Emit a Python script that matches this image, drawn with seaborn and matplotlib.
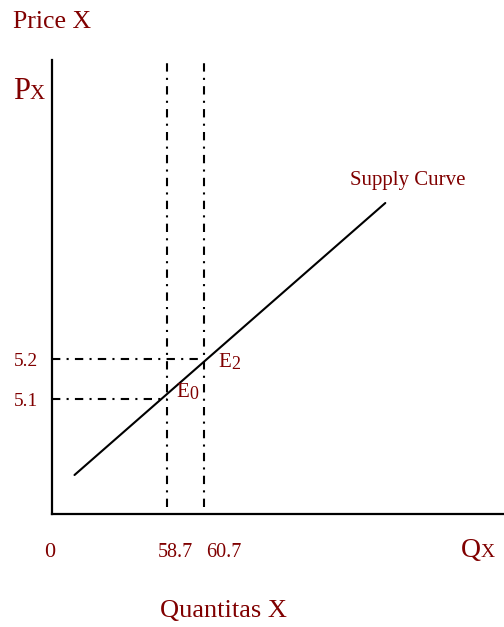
import matplotlib
matplotlib.use("Agg")
import matplotlib.pyplot as plt
import seaborn as sns
import pandas as pd

# data
q_eq = [58.7, 60.7]          # equilibrium quantities
p_eq = [5.1, 5.2]            # equilibrium prices
eq_names = ["E", "E"]
eq_subs = ["0", "2"]
q_supply = [53.7, 70.5]      # supply curve end points
p_supply = [4.91, 5.59]
q_tick_labels = ["58.7", "60.7"]
p_tick_labels = ["5.1", "5.2"]

RED = "#800000"
W, H = 504, 627

sns.set_style("white")
plt.rcParams["font.family"] = ["Liberation Serif", "DejaVu Serif"]

fig = plt.figure(figsize=(W / 100, H / 100), dpi=100)
ax = fig.add_axes([52 / W, 1 - 514 / H, 1 - 52 / W, (514 - 60) / H])
ax.set_xlim(52.484, 76.916)
ax.set_ylim(4.8125, 5.9475)

# supply curve
supply = pd.DataFrame({"Q": q_supply, "P": p_supply})
sns.lineplot(data=supply, x="Q", y="P", color="black", lw=1.5, ax=ax)

# guide lines
dash = (0, (4, 3, 1, 3))
ax.vlines(q_eq, 4.83, 5.9475, colors="black", lw=1.5, linestyles=[dash])
ax.hlines(p_eq, 52.484, q_eq, colors="black", lw=1.5, linestyles=[dash])

# axes styling
for s in ["top", "right"]:
    ax.spines[s].set_visible(False)
for s in ["left", "bottom"]:
    ax.spines[s].set_color("black")
    ax.spines[s].set_linewidth(1.6)
ax.set_xlabel("")
ax.set_ylabel("")
ax.set_xticks([])
ax.set_yticks(p_eq)
ax.set_yticklabels(p_tick_labels)
ax.tick_params(axis="y", length=0, pad=10, labelsize=14, labelcolor=RED)

renderer = fig.canvas.get_renderer()


def ftext(x, y, s, size, **kw):
    # x, y in pixels from top-left
    return fig.text(x / W, 1 - y / H, s, fontsize=size, color=RED,
                    va="baseline", **kw)


def sub_label(x, y, main, sub, size, sub_size, drop=0, gap=0):
    t = ftext(x, y, main, size, ha="left")
    bb = t.get_window_extent(renderer)
    ftext(bb.x1 + gap, y + drop, sub, sub_size, ha="left")


ftext(13, 28, "Price X", 18.5, ha="left")
sub_label(13, 99, "P", "X", 22, 15)
ftext(50, 557, "0", 16, ha="center")
for q, lab, cx in zip(q_eq, q_tick_labels, [175.7, 224]):
    ftext(cx, 557, lab, 14.5, ha="center")
sub_label(461, 557, "Q", "X", 20, 14)
ftext(160, 617, "Quantitas X", 19, ha="left")
ftext(350, 185, "Supply Curve", 15, ha="left")

# equilibrium labels, offset (px) from their points
label_offsets = [(9, -2), (14, 8)]
for q, p, n, s, (dx, dy) in zip(q_eq, p_eq, eq_names, eq_subs, label_offsets):
    x_px, y_px = ax.transData.transform((q, p))
    sub_label(x_px + dx, H - y_px + dy, n, s, 15, 13, drop=2, gap=1)

fig.savefig("out.png", dpi=100)
